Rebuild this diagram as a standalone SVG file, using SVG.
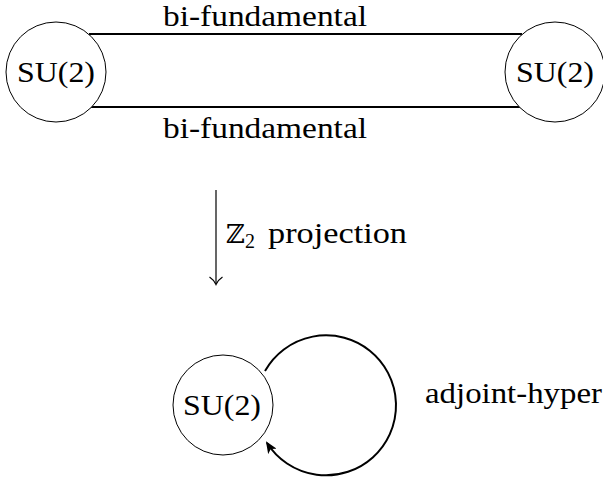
<svg xmlns="http://www.w3.org/2000/svg" width="603" height="478" viewBox="0 0 603 478">
<style>
  .node { fill: #fff; stroke: #000; stroke-width: 1; }
  .edge { fill: none; stroke: #000; stroke-width: 2; }
  .thin { fill: none; stroke: #000; stroke-width: 1.2; }
</style>
<defs>
  <marker id="stealth" viewBox="0 0 12 10" refX="10" refY="5" markerWidth="12" markerHeight="10" markerUnits="userSpaceOnUse" orient="auto">
    <path d="M0,0 L12,5 L0,10 L3,5 Z" fill="#000"/>
  </marker>
</defs>
<g id="connectors">
  <line class="edge" x1="89" y1="34" x2="522" y2="34"/>
  <line class="edge" x1="89" y1="107" x2="522" y2="107"/>
  <path class="edge" d="M 265 371 A 70 70 0 1 1 267 443" marker-end="url(#stealth)"/>
  <line class="thin" x1="216" y1="190" x2="216" y2="284"/>
  <path class="thin" d="M 209.5 277 Q 214 280 216 284.5 Q 218 280 222.5 277"/>
</g>
<g font-family="Liberation Serif, Times New Roman, Times, serif" font-size="30" fill="#000">
<g id="label-top">
  <text x="163" y="26" textLength="204" lengthAdjust="spacingAndGlyphs">bi-fundamental</text>
</g>
<g id="label-bottom">
  <text x="163" y="138" textLength="204" lengthAdjust="spacingAndGlyphs">bi-fundamental</text>
</g>
<g id="label-projection">
  <text x="226" y="243"><tspan font-family="DejaVu Serif, serif" font-size="26">ℤ</tspan><tspan font-size="20" dy="5">2</tspan><tspan dy="-5" x="268" textLength="139" lengthAdjust="spacingAndGlyphs">projection</tspan></text>
</g>
<g id="label-adjoint">
  <text x="425" y="403" textLength="177" lengthAdjust="spacingAndGlyphs">adjoint-hyper</text>
</g>
</g>
<g id="node-left" font-family="Liberation Serif, serif" font-size="30">
  <circle class="node" cx="56" cy="72" r="50"/>
  <text x="56" y="82" text-anchor="middle" textLength="78" lengthAdjust="spacingAndGlyphs">SU(2)</text>
</g>
<g id="node-right" font-family="Liberation Serif, serif" font-size="30">
  <circle class="node" cx="555" cy="72" r="50"/>
  <text x="555" y="82" text-anchor="middle" textLength="78" lengthAdjust="spacingAndGlyphs">SU(2)</text>
</g>
<g id="node-bottom" font-family="Liberation Serif, serif" font-size="30">
  <circle class="node" cx="223" cy="405" r="50"/>
  <text x="222" y="415" text-anchor="middle" textLength="78" lengthAdjust="spacingAndGlyphs">SU(2)</text>
</g>
</svg>
